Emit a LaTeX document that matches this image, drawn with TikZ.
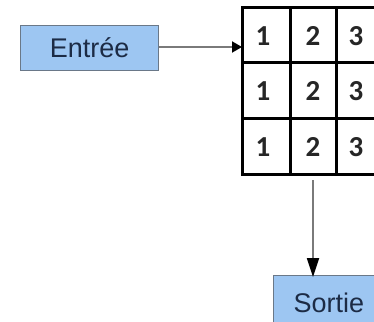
\documentclass[tikz,border=0pt]{standalone}
\usepackage{fontspec}
\setmainfont{Liberation Sans}
\newfontfamily\digitfont{Carlito Bold}
\usetikzlibrary{arrows.meta}
\definecolor{boxfill}{HTML}{9DC6F2}
\definecolor{boxline}{HTML}{6A7888}
\definecolor{boxtext}{HTML}{1C2B45}
\definecolor{wire}{HTML}{7A7A7A}
\tikzset{
  label box/.style={draw=boxline, line width=1.2pt, fill=boxfill, text=boxtext,
    font=\fontsize{27}{30}\selectfont, inner sep=0pt, anchor=north west},
  digit cell/.style={text=black!85, inner sep=0pt, font=\digitfont\fontsize{29}{31}\selectfont},
  wire/.style={draw=wire, line width=1.8pt},
  tip right/.style={-{Triangle[length=10pt,width=11pt,black]}},
  tip down/.style={-{Triangle[length=19pt,width=12pt,black]}}
}
\begin{document}
\begin{tikzpicture}[x=1pt,y=-1pt]
\useasboundingbox (0,0) rectangle (374,321);
\clip (0,0) rectangle (374,321);
\fill[white] (0,0) rectangle (374,321);

% input box
\node[label box, minimum width=138pt, minimum height=45pt] (in) at (20,25) {Entr\'ee};

% 3x3 grid
\draw[line width=3pt, line cap=rect] (242,8) rectangle (384,174);
\foreach \x in {290,336} \draw[line width=3pt] (\x,8) -- (\x,174);
\foreach \y in {62,118} \draw[line width=3pt] (242,\y) -- (384,\y);
\coordinate (gridin) at (242,47);
\coordinate (gridout) at (313,180);
\node[digit cell] (c1a) at (263,36) {1};
\node[digit cell] (c1b) at (313,36) {2};
\node[digit cell] (c1c) at (356,36) {3};
\node[digit cell] (c2a) at (263,91) {1};
\node[digit cell] (c2b) at (313,91) {2};
\node[digit cell] (c2c) at (356,91) {3};
\node[digit cell] (c3a) at (263,147) {1};
\node[digit cell] (c3b) at (313,147) {2};
\node[digit cell] (c3c) at (356,147) {3};

% output box
\node[label box, minimum width=120pt, minimum height=55pt, text width=114pt, align=left] (out) at (273,275) {\hspace*{17pt}Sortie};
\coordinate (outtop) at (313,275);

% connectors
\draw[wire, tip right] (in.east |- gridin) -- (gridin);
\draw[wire, tip down] (gridout) -- ([yshift=-2pt]outtop);
\end{tikzpicture}
\end{document}
